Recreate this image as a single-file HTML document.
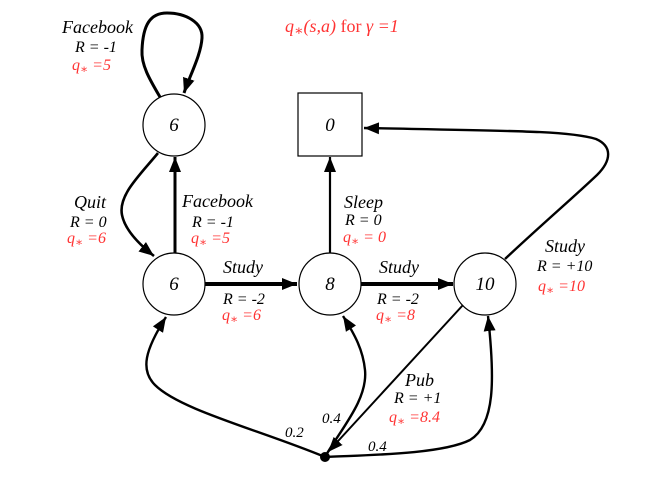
<!DOCTYPE html>
<html>
<head>
<meta charset="utf-8">
<style>
html,body{margin:0;padding:0;background:#fff;}
svg{display:block;}
text{font-family:"Liberation Serif","DejaVu Serif",serif;font-style:italic;}
</style>
</head>
<body>
<svg width="661" height="481" viewBox="0 0 661 481" xmlns="http://www.w3.org/2000/svg">
<defs>
<marker id="ah" markerUnits="userSpaceOnUse" markerWidth="16" markerHeight="14" refX="15" refY="7" orient="auto">
<path d="M0,1 L15,7 L0,13 Z" fill="#000"/>
</marker>
</defs>

<!-- nodes -->
<circle cx="174" cy="125" r="31" fill="#fff" stroke="#000" stroke-width="1.2"/>
<rect x="298" y="93" width="64" height="63" fill="#fff" stroke="#000" stroke-width="1.2"/>
<circle cx="174" cy="284" r="31" fill="#fff" stroke="#000" stroke-width="1.2"/>
<circle cx="330" cy="284" r="31" fill="#fff" stroke="#000" stroke-width="1.2"/>
<circle cx="485" cy="284" r="31" fill="#fff" stroke="#000" stroke-width="1.2"/>
<circle cx="325" cy="457" r="5" fill="#000"/>

<!-- node labels -->
<text x="174" y="131" font-size="19" text-anchor="middle">6</text>
<text x="330" y="131" font-size="19" text-anchor="middle">0</text>
<text x="174" y="290" font-size="19" text-anchor="middle">6</text>
<text x="330" y="290" font-size="19" text-anchor="middle">8</text>
<text x="485" y="290" font-size="19" text-anchor="middle">10</text>

<!-- edges -->
<g fill="none" stroke="#000">
<path d="M160,97 C150,80 141,65 142,50 C143,25 150,13 167,13 C185,13 203,22 202,38 C201,55 190,75 184,93" stroke-width="3" marker-end="url(#ah)"/>
<path d="M158,153 C140,175 118,195 122,215 C125,230 140,245 154,256" stroke-width="2.6" marker-end="url(#ah)"/>
<path d="M175,253 L175,157" stroke-width="3" marker-end="url(#ah)"/>
<path d="M330,253 L330,157" stroke-width="2.2" marker-end="url(#ah)"/>
<path d="M205,284 L297,284" stroke-width="4" marker-end="url(#ah)"/>
<path d="M361,284 L453,284" stroke-width="4" marker-end="url(#ah)"/>
<path d="M505,259 C540,226 575,196 597,175 C612,160 612,146 596,139 C570,131 520,131 364,128" stroke-width="2.4" marker-end="url(#ah)"/>
<path d="M463,305 L328,452" stroke-width="2" marker-end="url(#ah)"/>
<path d="M325,457 C260,430 180,410 155,385 C140,370 145,350 166,317" stroke-width="2.4" marker-end="url(#ah)"/>
<path d="M325,457 C340,430 368,400 365,370 C363,350 355,335 343,316" stroke-width="2.4" marker-end="url(#ah)"/>
<path d="M325,457 C360,455 440,455 470,440 C495,425 495,380 488,316" stroke-width="2.4" marker-end="url(#ah)"/>
</g>

<!-- title -->
<text x="285" y="32" font-size="18" fill="#f33">q<tspan font-size="14" dy="3">∗</tspan><tspan dy="-3">(s,a)</tspan><tspan font-style="normal"> for </tspan>γ =1</text>

<!-- top-left Facebook -->
<text x="62" y="33" font-size="18">Facebook</text>
<text x="75" y="52" font-size="16">R = -1</text>
<text x="72" y="70" font-size="16" fill="#f33">q<tspan font-size="12" dy="3">∗</tspan><tspan dy="-3"> =5</tspan></text>

<!-- Quit -->
<text x="74" y="208" font-size="18">Quit</text>
<text x="70" y="227" font-size="16">R = 0</text>
<text x="67" y="243" font-size="16" fill="#f33">q<tspan font-size="12" dy="3">∗</tspan><tspan dy="-3"> =6</tspan></text>

<!-- Facebook middle -->
<text x="182" y="207" font-size="18">Facebook</text>
<text x="192" y="227" font-size="16">R = -1</text>
<text x="191" y="243" font-size="16" fill="#f33">q<tspan font-size="12" dy="3">∗</tspan><tspan dy="-3"> =5</tspan></text>

<!-- Study 6->8 -->
<text x="223" y="273" font-size="18">Study</text>
<text x="223" y="304" font-size="16">R = -2</text>
<text x="222" y="320" font-size="16" fill="#f33">q<tspan font-size="12" dy="3">∗</tspan><tspan dy="-3"> =6</tspan></text>

<!-- Sleep -->
<text x="344" y="208" font-size="18">Sleep</text>
<text x="345" y="225" font-size="16">R = 0</text>
<text x="343" y="242" font-size="16" fill="#f33">q<tspan font-size="12" dy="3">∗</tspan><tspan dy="-3"> = 0</tspan></text>

<!-- Study 8->10 -->
<text x="379" y="273" font-size="18">Study</text>
<text x="377" y="304" font-size="16">R = -2</text>
<text x="376" y="320" font-size="16" fill="#f33">q<tspan font-size="12" dy="3">∗</tspan><tspan dy="-3"> =8</tspan></text>

<!-- Study 10->end -->
<text x="545" y="252" font-size="18">Study</text>
<text x="537" y="271" font-size="16">R = +10</text>
<text x="538" y="291" font-size="16" fill="#f33">q<tspan font-size="12" dy="3">∗</tspan><tspan dy="-3"> =10</tspan></text>

<!-- Pub -->
<text x="405" y="386" font-size="18">Pub</text>
<text x="394" y="403" font-size="16">R = +1</text>
<text x="389" y="422" font-size="16" fill="#f33">q<tspan font-size="12" dy="3">∗</tspan><tspan dy="-3"> =8.4</tspan></text>

<!-- probabilities -->
<text x="322" y="423" font-size="15">0.4</text>
<text x="285" y="437" font-size="15">0.2</text>
<text x="368" y="451" font-size="15">0.4</text>
</svg>
</body>
</html>
